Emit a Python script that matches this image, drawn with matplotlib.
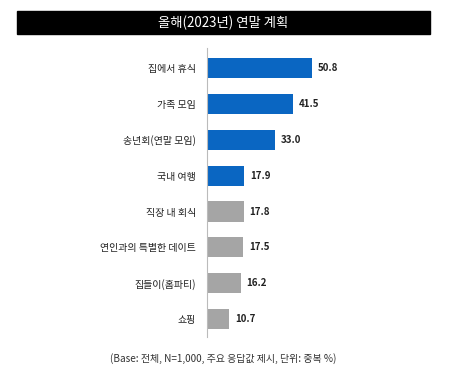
import matplotlib
matplotlib.use("Agg")
import matplotlib.pyplot as plt
from matplotlib.patches import Rectangle

plt.rcParams["font.family"] = ["Noto Sans CJK KR", "DejaVu Sans"]

TITLE = "올해(2023년) 연말 계획"
NOTE = "(Base: 전체, N=1,000, 주요 응답값 제시, 단위: 중복 %)"
categories = ["집에서 휴식", "가족 모임", "송년회(연말 모임)", "국내 여행",
              "직장 내 회식", "연인과의 특별한 데이트", "집들이(홈파티)", "쇼핑"]
values = [50.8, 41.5, 33.0, 17.9, 17.8, 17.5, 16.2, 10.7]
highlight = [True, True, True, True, False, False, False, False]

BLUE = "#0A66C2"
GREY = "#A5A5A5"


def main() -> None:
    fig = plt.figure(figsize=(4.5, 3.71), dpi=100)

    # title bar
    fig.patches.append(Rectangle((17 / 450, 1 - 34 / 371), 413 / 450, 23 / 371,
                                 transform=fig.transFigure, color="black", zorder=0))
    fig.text(223.5 / 450, 1 - 22.5 / 371, TITLE, color="white", fontsize=9.6,
             ha="center", va="center", fontweight="medium")

    ax = fig.add_axes([207 / 450, 1 - 337 / 371, 200 / 450, 289 / 371])
    ypos = list(range(len(categories)))
    colors = [BLUE if h else GREY for h in highlight]
    ax.barh(ypos, values, height=0.56, color=colors)
    for y, v in zip(ypos, values):
        ax.text(v + 2.8, y, f"{v:.1f}", va="center", ha="left", fontsize=7,
                fontweight="bold", color="#222222")

    ax.set_xlim(0, 96.6)
    ax.set_ylim(7.5, -0.56)
    ax.set_yticks(ypos)
    ax.set_yticklabels(categories, fontsize=7.2, color="#222222", fontweight="medium")
    ax.tick_params(axis="y", length=0, pad=8)
    ax.set_xticks([])
    for side in ("top", "right", "bottom"):
        ax.spines[side].set_visible(False)
    ax.spines["left"].set_color("#BBBBBB")
    ax.spines["left"].set_linewidth(0.8)

    fig.text(223 / 450, 1 - 359 / 371, NOTE, fontsize=7.2, color="#333333",
             ha="center", va="center")

    fig.savefig("out.png", dpi=100)


if __name__ == "__main__":
    main()
